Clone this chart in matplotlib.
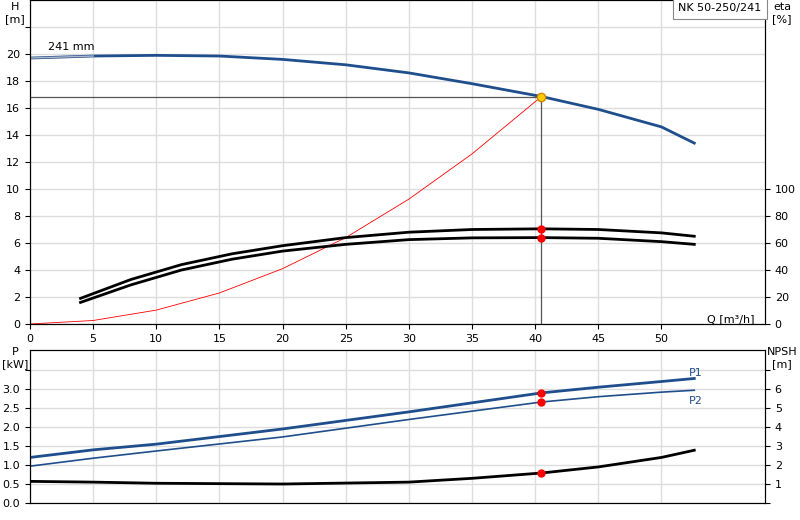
import numpy as np
import matplotlib.pyplot as plt

# pump curve H(Q)
q_h = [0, 5, 10, 15, 20, 25, 30, 35, 40.5, 45, 50, 52.6]
h = [19.7, 19.85, 19.9, 19.85, 19.6, 19.2, 18.6, 17.8, 16.85, 15.9, 14.6, 13.4]
# system curve
q_sys = [0, 5, 10, 15, 20, 25, 30, 35, 40.5]
h_sys = [0, 0.26, 1.03, 2.3, 4.1, 6.4, 9.25, 12.6, 16.85]
# efficiency curves [%]
q_eta = [4, 8, 12, 16, 20, 25, 30, 35, 40.5, 45, 50, 52.6]
eta1 = [19, 33, 44, 52, 58, 64, 68, 70, 70.5, 70, 67.5, 65]
eta2 = [16, 29, 40, 48, 54, 59, 62.5, 63.8, 64, 63.5, 61, 59]
# power and NPSH
q_p = [0, 5, 10, 20, 30, 40.5, 45, 50, 52.6]
p1 = [1.2, 1.4, 1.55, 1.95, 2.4, 2.9, 3.05, 3.2, 3.28]
p2 = [0.97, 1.18, 1.37, 1.74, 2.2, 2.66, 2.8, 2.92, 2.97]
q_npsh = [0, 5, 10, 20, 30, 35, 40.5, 45, 50, 52.6]
npsh = [1.14, 1.1, 1.04, 1.0, 1.1, 1.3, 1.58, 1.9, 2.4, 2.78]
q_op = 40.5

blue = '#1f4e8c'
plt.rcParams['font.size'] = 8
fig = plt.figure(figsize=(8, 5.2), dpi=100)
ax = fig.add_axes([30/800, 196/520, 735/800, 324/520])
axb = fig.add_axes([30/800, 17/520, 735/800, 153/520])

ax.plot(q_h, h, color=blue, lw=2)
ax.plot(q_h[:2], h[:2], color='#b0b8c8', lw=1)
ax.plot(q_sys, h_sys, color='red', lw=0.6)
ax.plot([0, q_op], [16.85, 16.85], color='#555555', lw=0.9)
ax.plot([q_op, q_op], [0, 16.85], color='#555555', lw=0.9)
ax.plot(q_op, 16.85, 'o', color='#ffcc00', mec='#cc8800', ms=6, zorder=5)
ax.text(1.4, 20.3, '241 mm')
ax.set_xlim(0, 58.2)
ax.set_ylim(0, 24)
ax.set_xticks(range(0, 55, 5))
ax.set_yticks(range(0, 24, 2))
ax.set_yticklabels([str(v) for v in range(0, 22, 2)] + [''])
ax.grid(True, color='#dddddd', lw=1)
fig.text(15/800, 1 - 2/520, 'H\n[m]', ha='center', va='top')
ax.text(55.5, 0, 'Q [m³/h]', ha='center', va='bottom')

ax2 = ax.twinx()
ax2.plot(q_eta, eta1, color='black', lw=2)
ax2.plot(q_eta, eta2, color='black', lw=2)
ax2.plot([q_op, q_op], [70.5, 64], 'o', color='red', ms=5, zorder=5)
ax2.set_ylim(0, 240)
ax2.set_yticks(range(0, 120, 20))
fig.text(782/800, 1 - 2/520, 'eta\n[%]', ha='center', va='top')
ax2.text(0.995, 0.99, 'NK 50-250/241', transform=ax2.transAxes, ha='right', va='top',
         bbox=dict(facecolor='white', edgecolor='#888888', lw=0.8))

axb.plot(q_p, p1, color=blue, lw=2)
axb.plot(q_p, p2, color=blue, lw=1.2)
axb.plot([q_op, q_op], [2.9, 2.66], 'o', color='red', ms=5, zorder=5)
axb.text(52.2, 3.35, 'P1', color=blue)
axb.text(52.2, 2.6, 'P2', color=blue)
axb.set_xlim(0, 58.2)
axb.set_ylim(0, 4.03)
axb.set_xticks(range(0, 55, 5))
axb.set_xticklabels([])
axb.tick_params(axis='x', length=0)
axb.set_yticks(np.arange(0, 4.0, 0.5))
axb.set_yticklabels(['0.0', '0.5', '1.0', '1.5', '2.0', '2.5', '3.0', ''])
axb.grid(True, color='#dddddd', lw=1)
fig.text(15/800, 1 - 347/520, 'P\n[kW]', ha='center', va='top')

axb2 = axb.twinx()
axb2.plot(q_npsh, npsh, color='black', lw=2)
axb2.plot(q_op, 1.58, 'o', color='red', ms=5, zorder=5)
axb2.set_ylim(0, 8.06)
axb2.set_yticks(range(0, 8))
axb2.set_yticklabels(['', '1', '2', '3', '4', '5', '6', ''])
fig.text(782/800, 1 - 347/520, 'NPSH\n[m]', ha='center', va='top')

fig.savefig('out.png')
